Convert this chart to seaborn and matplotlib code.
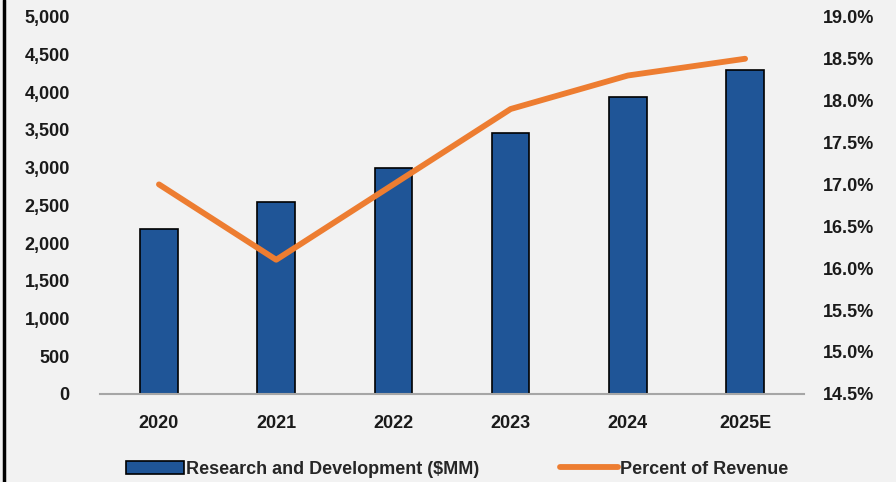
import numpy as np
import pandas as pd
import matplotlib.pyplot as plt
import matplotlib.ticker as mticker
from matplotlib.lines import Line2D
from matplotlib.patches import Patch
import seaborn as sns

years = ['2020', '2021', '2022', '2023', '2024', '2025E']
rnd_spend = [2180, 2540, 2990, 3460, 3940, 4290]
pct_revenue = [17.0, 16.1, 17.0, 17.9, 18.3, 18.5]

bar_color = '#1f5597'
line_color = '#ed7d31'
bg = '#f2f2f2'

sns.set_theme(style='white')
plt.rcParams['font.family'] = ['Liberation Sans Narrow', 'Liberation Sans', 'DejaVu Sans']
plt.rcParams['font.weight'] = 'bold'

df = pd.DataFrame({'year': years, 'rnd': rnd_spend, 'pct': pct_revenue})

fig = plt.figure(figsize=(8.96, 4.82), dpi=100, facecolor=bg)
ax = fig.add_axes([0.112, 0.183, 0.785, 0.782])
ax.set_facecolor(bg)

# bars on the left axis
sns.barplot(data=df, x='year', y='rnd', color=bar_color, width=0.32,
            edgecolor='black', linewidth=1.2, saturation=1, ax=ax)
ax.set_ylim(0, 5000)
ax.set_yticks(np.arange(0, 5001, 500))
ax.yaxis.set_major_formatter(mticker.FuncFormatter(lambda v, _: f'{int(v):,}'))
ax.set_xlabel('')
ax.set_ylabel('')
for s in ['top', 'right', 'left']:
    ax.spines[s].set_visible(False)
ax.spines['bottom'].set_color('#a6a6a6')
ax.spines['bottom'].set_linewidth(1.5)
ax.tick_params(axis='y', labelsize=13, pad=22, length=0, labelcolor='#1a1a1a')
ax.tick_params(axis='x', labelsize=13, pad=15, length=0, labelcolor='#1a1a1a')

# percent of revenue on the right axis
ax2 = ax.twinx()
sns.lineplot(x=np.arange(len(years)), y=pct_revenue, color=line_color, linewidth=4.2,
             ax=ax2, solid_capstyle='round')
ax2.set_ylim(14.5, 19.0)
ax2.set_yticks(np.arange(14.5, 19.01, 0.5))
ax2.yaxis.set_major_formatter(mticker.FuncFormatter(lambda v, _: f'{v:.1f}%'))
for s in ['top', 'right', 'left', 'bottom']:
    ax2.spines[s].set_visible(False)
ax2.tick_params(axis='y', labelsize=13, pad=14, length=0, labelcolor='#1a1a1a')
ax.set_xlim(-0.5, len(years) - 0.5)

handles = [Patch(facecolor=bar_color, edgecolor='black', linewidth=1.2),
           Line2D([0], [0], color=line_color, linewidth=4.2)]
labels = ['Research and Development ($MM)', 'Percent of Revenue']
fig.legend(handles, labels, loc='lower center', bbox_to_anchor=(0.51, -0.025), ncol=2,
           frameon=False, fontsize=13, handlelength=3.2, handletextpad=0.1,
           columnspacing=4.5)

fig.add_artist(Line2D([0.005, 0.005], [0, 1], color='black', linewidth=2.5,
                      transform=fig.transFigure))

fig.savefig('out.png', dpi=100, facecolor=bg)
